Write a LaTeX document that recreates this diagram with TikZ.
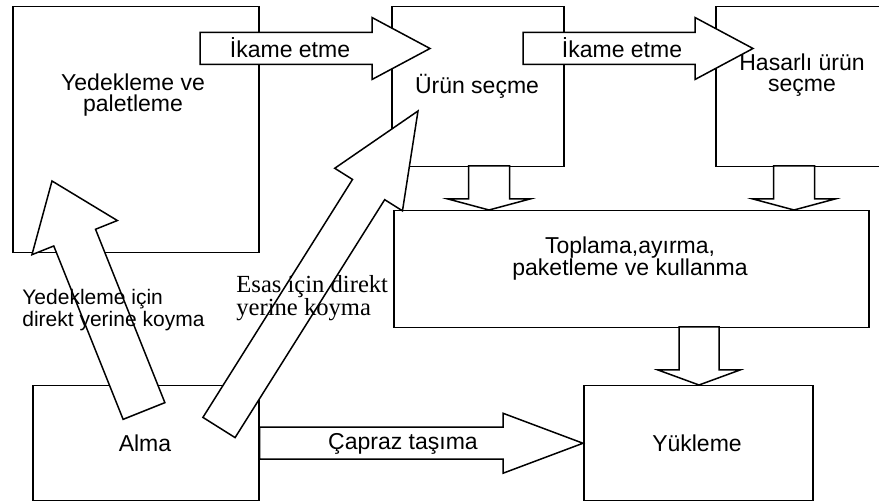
\documentclass[tikz,border=0pt]{standalone}
\usepackage{fontspec}
\setmainfont{Liberation Sans}
\newfontfamily\timesfont{Liberation Serif}
\usetikzlibrary{calc}
\tikzset{
  kutu/.style={draw, line width=0.75pt, anchor=north west, inner sep=0pt},
  yazi/.style={font=\fontsize{11.5}{10.5}\selectfont, align=center, inner sep=0pt},
  yanyazi/.style={align=left, anchor=west, inner sep=0pt},
  blok/.style={draw, fill=white, line width=0.75pt, line join=miter},
}
% block arrow: from, to, half shaft, half head, head length
\newcommand{\blokok}[5]{%
  \coordinate (okb) at ($(#2)!#5!(#1)$);
  \draw[blok] ($(#1)!#3!90:(#2)$) -- ($(okb)!#3!90:(#2)$) -- ($(okb)!#4!90:(#2)$) -- (#2)
    -- ($(okb)!#4!-90:(#2)$) -- ($(okb)!#3!-90:(#2)$) -- ($(#1)!#3!-90:(#2)$) -- cycle;}
\begin{document}
\begin{tikzpicture}[x=0.5pt,y=-0.5pt]
\useasboundingbox (0,0) rectangle (879,501);
\clip (0,0) rectangle (879,501);
% boxes
\node[kutu, minimum width=123pt, minimum height=123pt] (yed) at (12,6) {};
\node[kutu, minimum width=86pt, minimum height=80pt] (urun) at (391,6) {};
\node[kutu, minimum width=84pt, minimum height=80pt] (hasar) at (715,6) {};
\node[kutu, minimum width=237.5pt, minimum height=58.5pt] (topl) at (393,210) {};
\node[kutu, minimum width=113pt, minimum height=57.5pt] (alma) at (32,385) {};
\node[kutu, minimum width=114.5pt, minimum height=57.5pt] (yuk) at (583,385) {};
% arrow ends
\coordinate (ik1a) at (200,48.5);
\coordinate (ik1b) at (430,48.5);
\coordinate (ik2a) at (523,48.5);
\coordinate (ik2b) at (753,48.5);
\coordinate (u1) at (489,166);
\coordinate (u2) at (489,210);
\coordinate (h1) at (794,166);
\coordinate (h2) at (794,210);
\coordinate (t1) at (699,327);
\coordinate (t2) at (699,385);
\coordinate (d1a) at (144,411);
\coordinate (d1b) at (52,181);
\coordinate (d2a) at (219,427.5);
\coordinate (d2b) at (418,111);
% arrows
\blokok{ik1a}{ik1b}{8pt}{15.5pt}{29pt}
\blokok{ik2a}{ik2b}{8pt}{15.5pt}{29pt}
\blokok{u1}{u2}{10.25pt}{20.5pt}{5.5pt}
\blokok{h1}{h2}{10.25pt}{20.5pt}{5.5pt}
\blokok{t1}{t2}{10pt}{20.5pt}{7.5pt}
\blokok{alma.east}{yuk.west}{8pt}{15pt}{40pt}
\blokok{d1a}{d1b}{11.25pt}{23pt}{30.5pt}
\blokok{d2a}{d2b}{9.5pt}{20pt}{46.4pt}
% texts
\node[yazi] (yedt) at (133,95) {Yedekleme ve\\paletleme};
\node[yazi] (urunt) at (477,86) {Ürün seçme};
\node[yazi] (hasart) at (802,75) {Hasarlı ürün\\seçme};
\node[yazi, font=\fontsize{11.5}{11}\selectfont] (toplt) at (630,259) {Toplama,ayırma,\\paketleme ve kullanma};
\node[yazi] (almat) at (145,443) {Alma};
\node[yazi] (yukt) at (697,443) {Yükleme};
\node[yazi] (ik1t) at (290,48) {İkame etme};
\node[yazi] (ik2t) at (622,48) {İkame etme};
\node[yazi] (capt) at (403,444) {Çapraz taşıma};
\node[yanyazi, font=\fontsize{10.5}{9}\selectfont] (d1t) at (22,310) {Yedekleme için\\direkt yerine koyma};
\node[yanyazi, font=\timesfont\fontsize{12.3}{11.5}\selectfont] (d2t) at (236,298.5) {Esas için direkt\\yerine koyma};
\end{tikzpicture}
\end{document}
